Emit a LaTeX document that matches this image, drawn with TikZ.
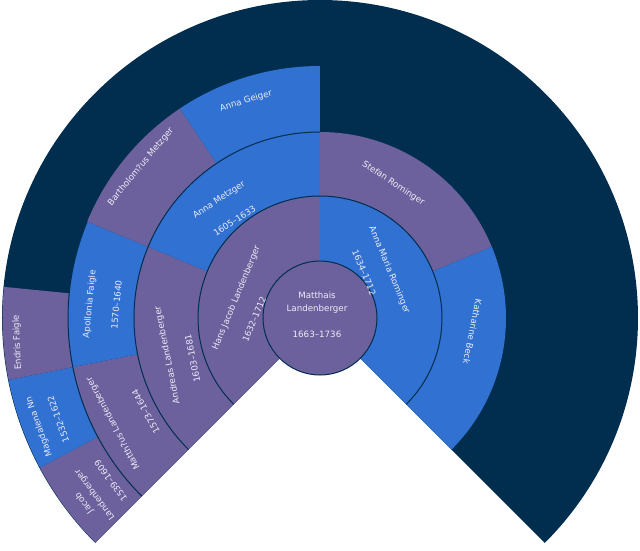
\documentclass[tikz,border=0pt]{standalone}
\usepackage{fontspec}
\setmainfont{DejaVu Sans}
\usepackage{xcolor}
\usepackage{tikz}
\usetikzlibrary{positioning}

\definecolor{fanpurple}{HTML}{6C619C}
\definecolor{fanblue}{HTML}{3171D1}
\definecolor{fannavy}{HTML}{012E4E}
\definecolor{fantext}{HTML}{EEECF8}

\begin{document}
\begin{tikzpicture}[x=1pt, y=1pt,
  lbl/.style={text=fantext, font=\fontsize{8.7}{13.5}\selectfont,
              inner sep=0pt, align=center},
  rim/.style={draw=fannavy, line width=1pt}]
  \useasboundingbox (-320,-232) rectangle (320,318);
  % the whole fan
  \fill[fannavy] (0,0) -- (-45:318) arc (-45:225:318) -- cycle;
  % known ancestors: from/to angle, inner/outer radius, colour
  \foreach \a/\b/\ri/\ro/\c in {
      90/225/57/122/fanpurple, -45/90/57/122/fanblue,
      157.5/225/122/186/fanpurple, 90/157.5/122/186/fanblue,
      22.5/90/122/186/fanpurple, -45/22.5/122/186/fanblue,
      191.25/225/186/252/fanpurple, 157.5/191.25/186/252/fanblue,
      123.75/157.5/186/252/fanpurple, 90/123.75/186/252/fanblue,
      208.125/225/252/317.5/fanpurple, 191.25/208.125/252/317.5/fanblue,
      174.375/191.25/252/317.5/fanpurple}
    \fill[\c] (\a:\ri) arc (\a:\b:\ri) -- (\b:\ro) arc (\b:\a:\ro) -- cycle;
  \draw[rim] (-45:122) arc (-45:225:122);
  \draw[rim] (90:186) arc (90:225:186);
  \draw[rim] (157.5:252) arc (157.5:225:252);
  \filldraw[rim, fill=fanpurple] (0,0) circle (57);

  \node[lbl] (root) at (-3,15.5) {Matthais\\Landenberger};
  \node[lbl] (rootd) at (-3,-16) {1663–1736};

  \node[lbl, rotate=67.5] (hans) at (-83.5,19.7) {Hans Jacob Landenberger};
  \node[lbl, rotate=67.5] (hansd) at (-65.8,-1.2) {1632–1712};
  \node[lbl, rotate=-67.5] (annamaria) at (69.2,48) {Anna Maria Rominger};
  \node[lbl, rotate=-67.5] (annamariad) at (44.2,45.5) {1634–1712};

  \node[lbl, rotate=101.25] (andreas) at (-152.5,-37) {Andreas Landenberger};
  \node[lbl, rotate=101.25] (andreasd) at (-127.5,-40.3) {1603–1681};
  \node[lbl, rotate=33.75] (annametzger) at (-100.8,118) {Anna Metzger};
  \node[lbl, rotate=33.75] (annametzgerd) at (-85.5,97.2) {1605–1633};
  \node[lbl, rotate=-33.75] (stefan) at (73.3,134.7) {Stefan Rominger};
  \node[lbl, rotate=-101.25] (katharine) at (152.5,-13.7) {Katharine Beck};

  \node[lbl, rotate=118.125] (matthaeus) at (-206.7,-105.3) {Matth?us Landenberger};
  \node[lbl, rotate=118.125] (matthaeusd) at (-174.2,-93.7) {1573–1644};
  \node[lbl, rotate=84.375] (apollonia) at (-230.1,14) {Apollonia Faigle};
  \node[lbl, rotate=84.375] (apolloniad) at (-203.5,13.2) {1570–1640};
  \node[lbl, rotate=50.625] (bartholomaeus) at (-179.2,151.3) {Bartholom?us Metzger};
  \node[lbl, rotate=16.875] (annageiger) at (-74,217) {Anna Geiger};

  \node[lbl, rotate=126.5625] (jacob) at (-230.5,-181) {Jacob\\Landenberger};
  \node[lbl, rotate=126.5625] (jacobd) at (-209.3,-162.7) {1539–1609};
  \node[lbl, rotate=109.6875] (magdalena) at (-280.8,-108.7) {Magdalena Nn};
  \node[lbl, rotate=109.6875] (magdalenad) at (-261.7,-101.2) {1532–1622};
  \node[lbl, rotate=92.8125] (endris) at (-302.5,-24.5) {Endris Faigle};
\end{tikzpicture}
\end{document}
